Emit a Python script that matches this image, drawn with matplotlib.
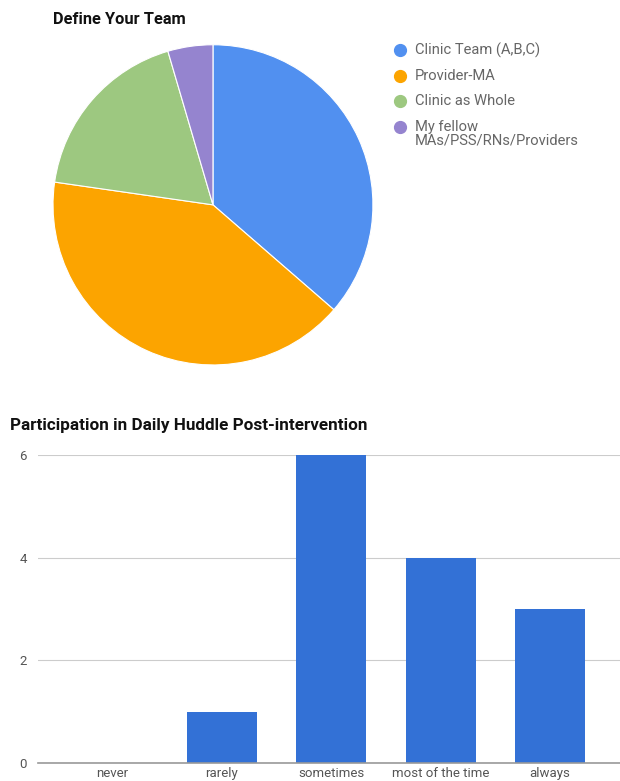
import matplotlib.pyplot as plt
from matplotlib.lines import Line2D

plt.rcParams['font.family'] = ['Roboto', 'DejaVu Sans']

# -----------------------------
# DATI
# -----------------------------
team_labels = ['Clinic Team (A,B,C)', 'Provider-MA', 'Clinic as Whole',
               'My fellow\nMAs/PSS/RNs/Providers']
team_counts = [8, 9, 4, 1]
team_colors = ['#5190F0', '#FCA400', '#9DC880', '#9584CF']

huddle_labels = ['never', 'rarely', 'sometimes', 'most of the time', 'always']
huddle_counts = [0, 1, 6, 4, 3]
bar_color = '#3371D6'

fig = plt.figure(figsize=(6.2, 7.81), dpi=100)

# -----------------------------
# GRAFICO A TORTA
# -----------------------------
ax1 = fig.add_axes([0.0855, 0.5327, 0.516, 0.41])
ax1.pie(team_counts, colors=team_colors, startangle=90, counterclock=False,
        wedgeprops=dict(edgecolor='white', linewidth=0.8))
ax1.set_aspect('auto')
ax1.set_xlim(-1, 1)
ax1.set_ylim(-1, 1)

fig.text(53 / 620, 1 - 20 / 781, 'Define Your Team', fontsize=11.8,
         fontweight='bold', va='center', ha='left', color='#111111')

legend_y = [50, 76, 101, 127]
for lab, col, y in zip(team_labels, team_colors, legend_y):
    ty = y + 7 if '\n' in lab else y
    fig.text(415 / 620, 1 - ty / 781, lab, fontsize=10.6, color='#666666',
             va='center', ha='left', linespacing=0.95)
    fig.add_artist(Line2D([400 / 620], [1 - y / 781], marker='o',
                          markersize=8.5, color=col, linestyle='none',
                          transform=fig.transFigure))

# -----------------------------
# GRAFICO A BARRE
# -----------------------------
ax2 = fig.add_axes([38 / 620, 18 / 781, 582 / 620, 308 / 781])
x = list(range(len(huddle_labels)))
ax2.bar(x, huddle_counts, width=0.64, color=bar_color, zorder=3)
ax2.set_xlim(-0.681, 4.64)
ax2.set_ylim(0, 6)
ax2.set_yticks([0, 2, 4, 6])
ax2.set_xticks(x)
ax2.set_xticklabels(huddle_labels)
ax2.tick_params(axis='both', length=0, labelsize=9.5, labelcolor='#555555')
ax2.tick_params(axis='y', pad=8)
ax2.tick_params(axis='x', pad=3)
ax2.grid(axis='y', color='#CCCCCC', linewidth=0.8, zorder=0)
for s in ['top', 'right', 'left']:
    ax2.spines[s].set_visible(False)
ax2.spines['bottom'].set_color('#999999')
ax2.spines['bottom'].set_linewidth(1.2)
ax2.spines['bottom'].set_zorder(4)

fig.text(10 / 620, 1 - 425 / 781, 'Participation in Daily Huddle Post-intervention',
         fontsize=12.3, fontweight='bold', va='center', ha='left', color='#111111')

plt.savefig('out.png', dpi=100)
